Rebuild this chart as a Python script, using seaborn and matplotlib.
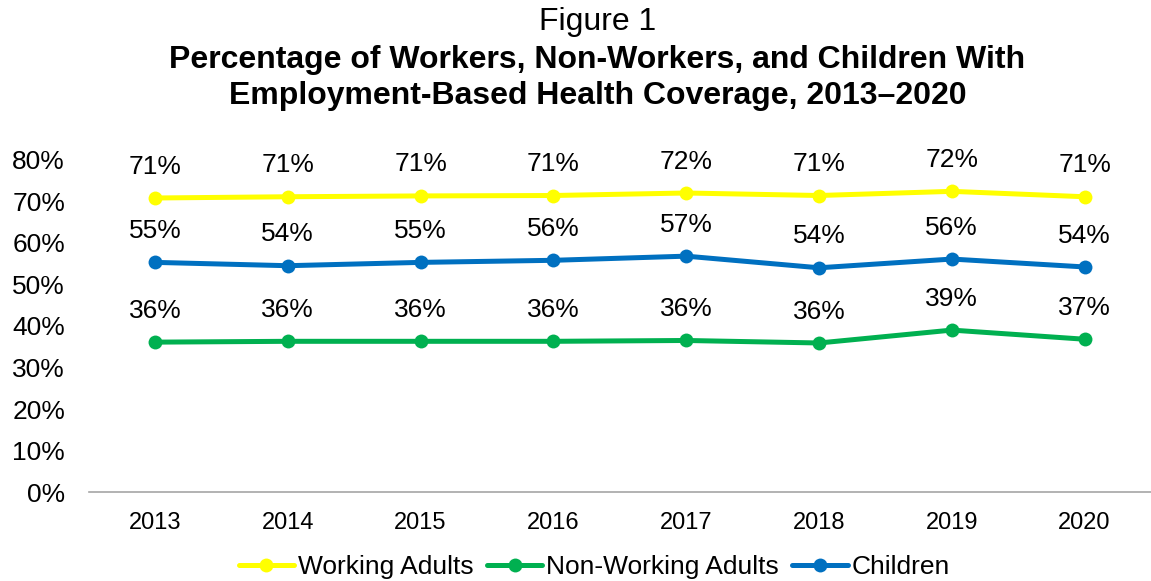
import matplotlib
matplotlib.use("Agg")
import matplotlib.pyplot as plt
import seaborn as sns
import pandas as pd

years = ["2013", "2014", "2015", "2016", "2017", "2018", "2019", "2020"]
working = [70.8, 71.1, 71.3, 71.4, 72.0, 71.4, 72.4, 71.1]
nonworking = [36.1, 36.3, 36.3, 36.3, 36.5, 35.9, 39.0, 36.8]
children = [55.3, 54.5, 55.3, 55.8, 56.8, 54.0, 56.1, 54.2]
labels_working = ["71%", "71%", "71%", "71%", "72%", "71%", "72%", "71%"]
labels_nonworking = ["36%", "36%", "36%", "36%", "36%", "36%", "39%", "37%"]
labels_children = ["55%", "54%", "55%", "56%", "57%", "54%", "56%", "54%"]
series = ["Working Adults", "Non-Working Adults", "Children"]
colors = ["#FFFF00", "#00B050", "#0070C0"]
yticks = [0, 10, 20, 30, 40, 50, 60, 70, 80]

sns.set_theme(style="white")
plt.rcParams['font.family'] = ['Liberation Sans', 'DejaVu Sans']
plt.rcParams['text.color'] = 'black'
plt.rcParams['xtick.color'] = 'black'
plt.rcParams['ytick.color'] = 'black'

rows = []
for name, vals in zip(series, [working, nonworking, children]):
    for i, v in enumerate(vals):
        rows.append({"Year": i, "Series": name, "Value": v})
df = pd.DataFrame(rows)

fig = plt.figure(figsize=(11.51, 5.81), dpi=100)
ax = fig.add_axes([0.077, 0.153, 0.923, 0.572])

sns.lineplot(data=df, x="Year", y="Value", hue="Series", palette=colors,
             hue_order=series, marker="o", markersize=10, linewidth=3.6,
             markeredgewidth=0, ax=ax)

for vals, labs in zip([working, nonworking, children],
                      [labels_working, labels_nonworking, labels_children]):
    for i, (v, l) in enumerate(zip(vals, labs)):
        ax.annotate(l, (i, v), xytext=(0, 14), textcoords="offset points",
                    ha="center", va="bottom", fontsize=19, color="black")

ax.set_xlim(-0.5, 7.5)
ax.set_ylim(0, 80)
ax.set_xticks(range(len(years)))
ax.set_xticklabels(years, fontsize=17)
ax.set_yticks(yticks)
ax.set_yticklabels([f"{t}%" for t in yticks], fontsize=19)
ax.tick_params(axis="x", length=0, pad=14)
ax.tick_params(axis="y", length=0, pad=17)
ax.set_xlabel("")
ax.set_ylabel("")
for s in ["top", "right", "left"]:
    ax.spines[s].set_visible(False)
ax.spines["bottom"].set_color("#A6A6A6")
ax.spines["bottom"].set_linewidth(1.2)
ax.grid(False)

handles, lbls = ax.get_legend_handles_labels()
ax.legend(handles, lbls, loc="upper center", bbox_to_anchor=(0.476, -0.158),
          ncol=3, frameon=False, fontsize=19, handlelength=2.1, handletextpad=0.15,
          columnspacing=0.5, borderaxespad=0)

fig.text(0.519, 0.962, "Figure 1", ha="center", va="center", fontsize=23)
fig.text(0.519, 0.897, "Percentage of Workers, Non-Workers, and Children With",
         ha="center", va="center", fontsize=23, fontweight="bold")
fig.text(0.519, 0.834, "Employment-Based Health Coverage, 2013\u20132020",
         ha="center", va="center", fontsize=23, fontweight="bold")

fig.savefig("out.png", dpi=100)
